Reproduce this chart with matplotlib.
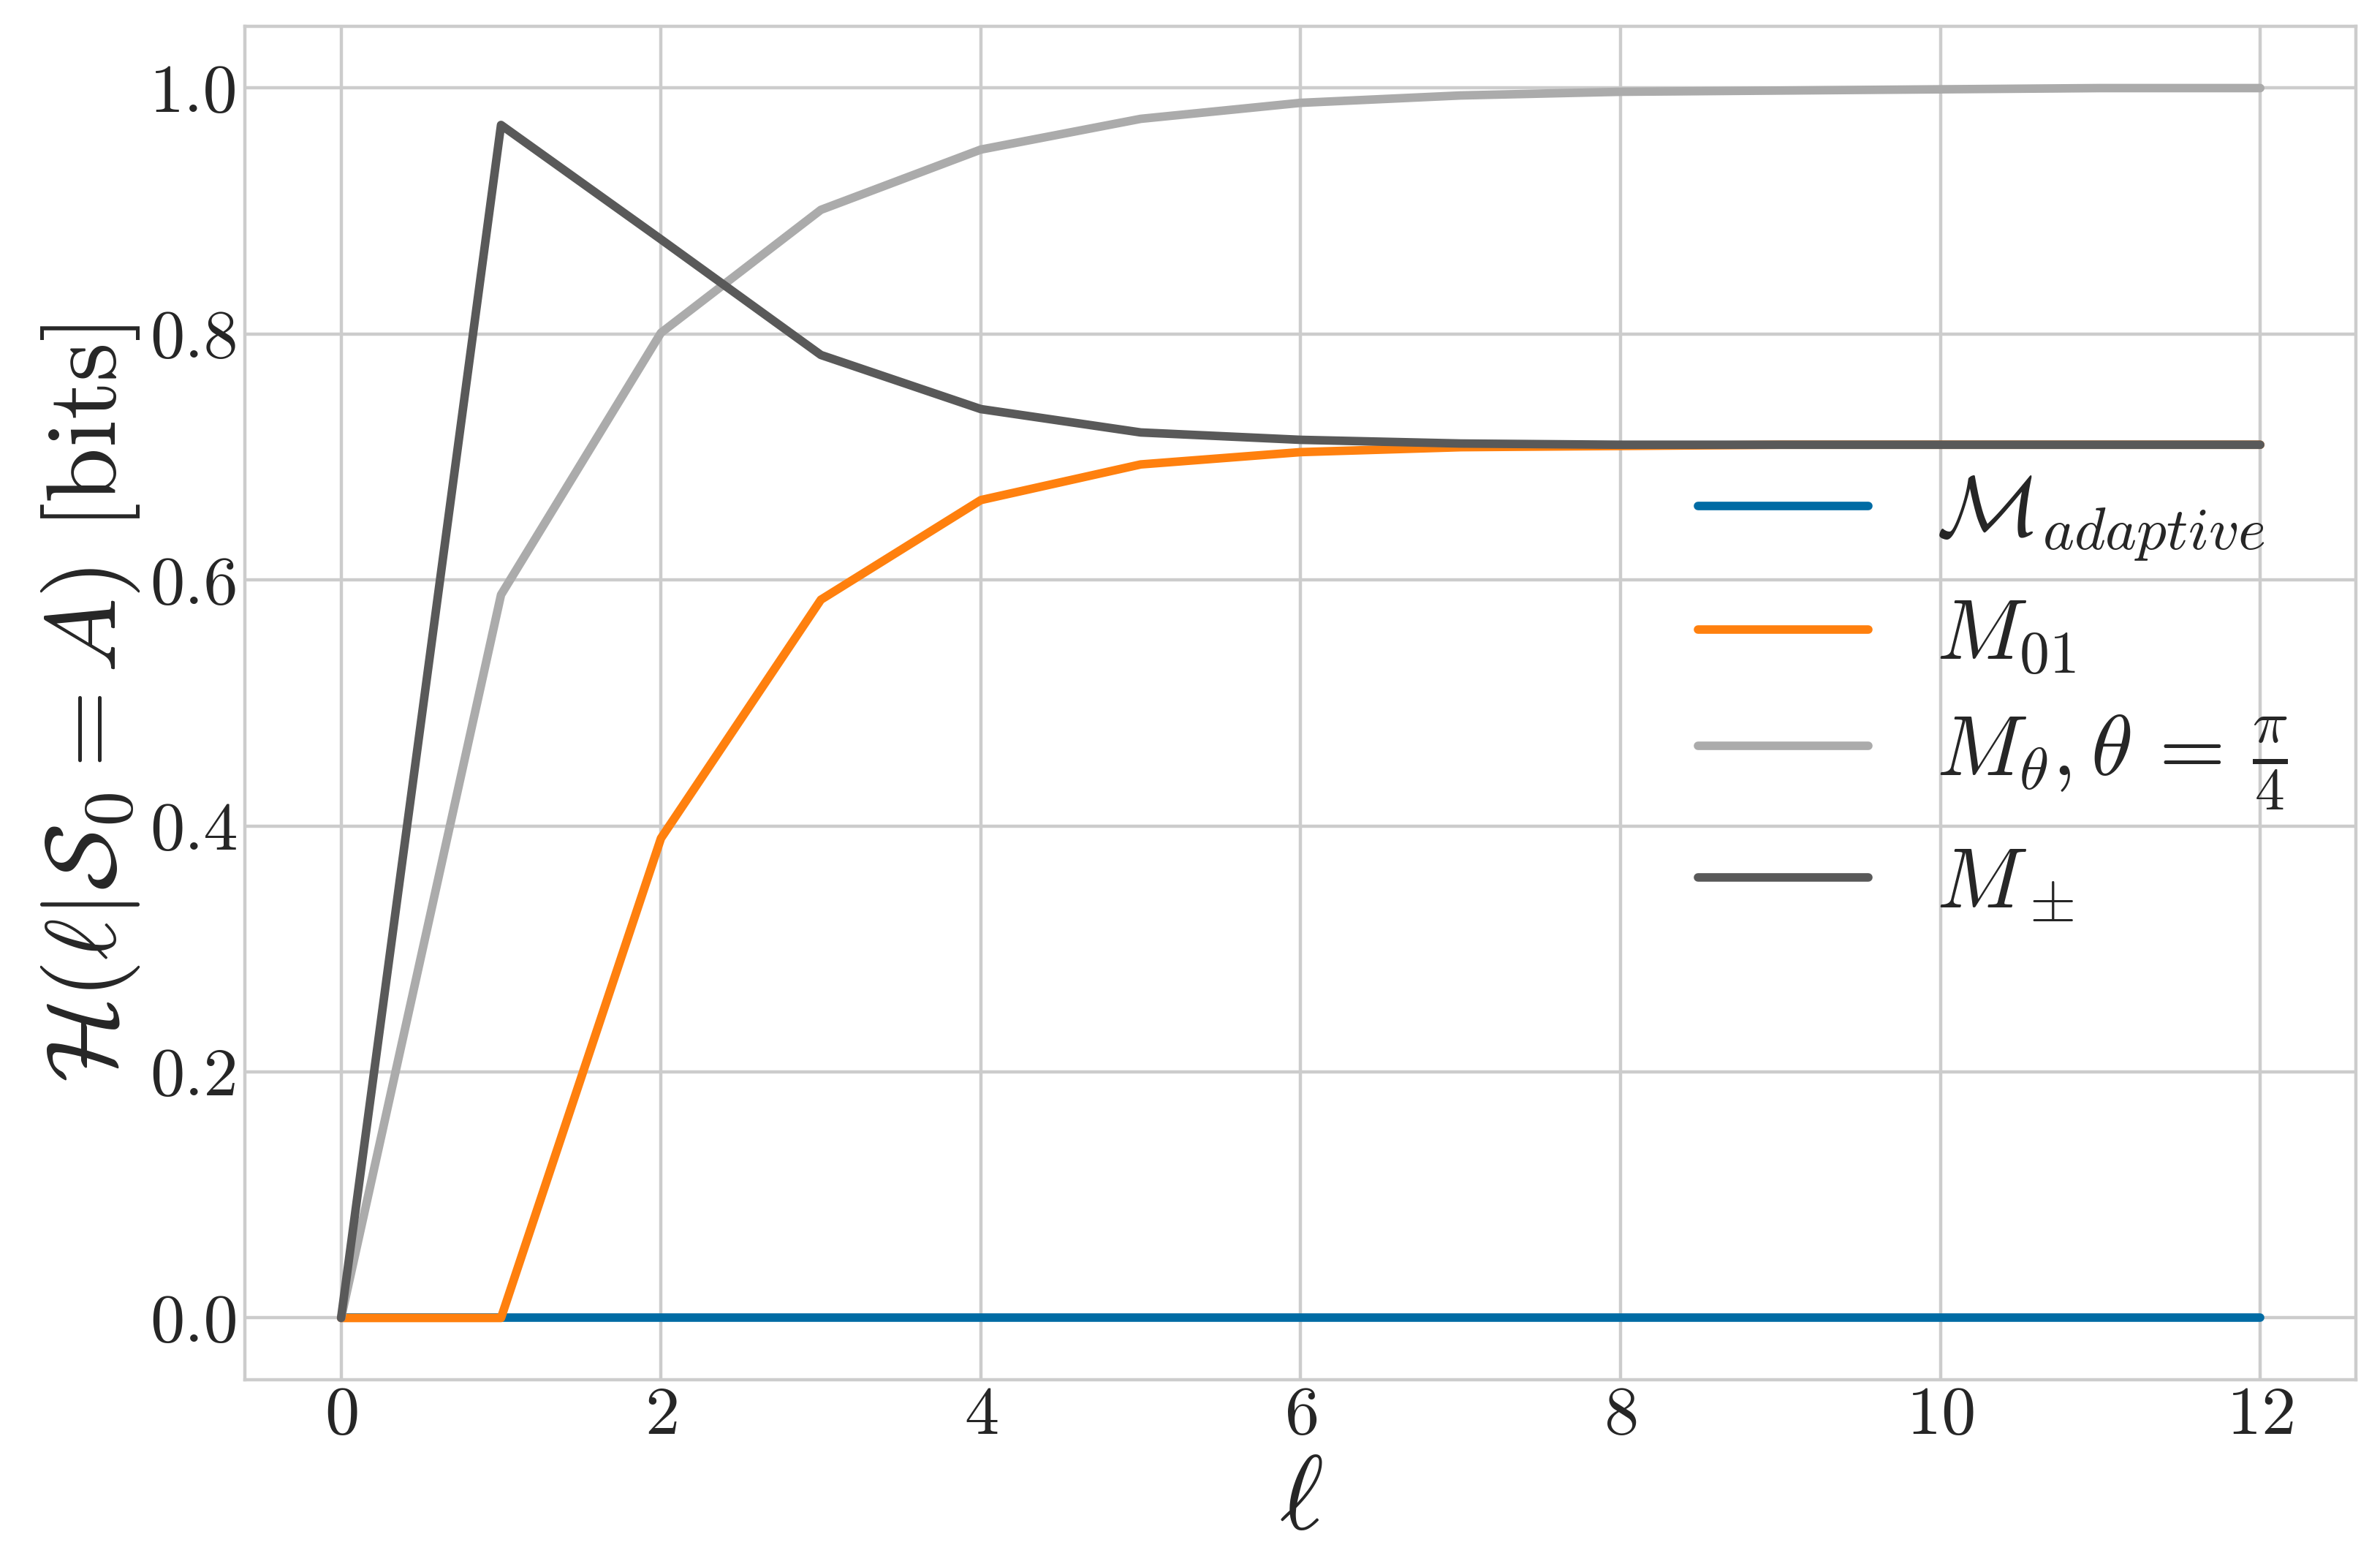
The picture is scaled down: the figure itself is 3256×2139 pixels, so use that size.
import matplotlib
matplotlib.use("Agg")
import matplotlib.pyplot as plt
import numpy as np

# data
ell = list(range(13))
h_adaptive = [0.0] * 13
h_m01 = [0.0, 0.0, 0.390, 0.584, 0.665, 0.694, 0.704, 0.708, 0.709, 0.710, 0.710, 0.710, 0.710]
h_mtheta = [0.0, 0.588, 0.801, 0.901, 0.950, 0.975, 0.988, 0.994, 0.997, 0.998, 0.999, 1.0, 1.0]
h_mpm = [0.0, 0.970, 0.877, 0.783, 0.739, 0.720, 0.714, 0.711, 0.710, 0.710, 0.710, 0.710, 0.710]

labels = [r'$\mathcal{M}_{adaptive}$', r'$M_{01}$',
          r'$M_\theta, \theta \,=\, \frac{\pi}{4}$', r'$M_\pm$']
colors = ['#006BA4', '#FF800E', '#ABABAB', '#595959']

plt.style.use('seaborn-v0_8-whitegrid')
plt.rcParams['font.family'] = 'serif'
plt.rcParams['font.serif'] = ['cmr10', 'DejaVu Serif']
plt.rcParams['mathtext.fontset'] = 'cm'
plt.rcParams['axes.formatter.use_mathtext'] = True

fig, ax = plt.subplots(figsize=(16.28, 10.695), dpi=200)
fig.subplots_adjust(left=0.103, right=0.990, top=0.983, bottom=0.118)

for ys, lab, c in zip([h_adaptive, h_m01, h_mtheta, h_mpm], labels, colors):
    ax.plot(ell, ys, color=c, lw=4.2, label=lab)

ax.set_xticks([0, 2, 4, 6, 8, 10, 12])
ax.set_yticks([0.0, 0.2, 0.4, 0.6, 0.8, 1.0])
ax.set_yticklabels(['0.0', '0.2', '0.4', '0.6', '0.8', '1.0'])
ax.tick_params(labelsize=34)
ax.grid(True, color='#cccccc', linewidth=1.6)
ax.set_xlabel(r'$\ell$', fontsize=52)
ax.set_ylabel(r'$\mathcal{H}(\ell|\mathcal{S}_0 = A)\ [\mathrm{bits}]$', fontsize=49)

for s in ax.spines.values():
    s.set_visible(True)
    s.set_color('#cccccc')
    s.set_linewidth(1.6)

ax.legend(loc='center right', bbox_to_anchor=(1.004, 0.503), frameon=False,
          fontsize=42, handlelength=2.0, labelspacing=0.42)

fig.savefig('out.png', dpi=200)
